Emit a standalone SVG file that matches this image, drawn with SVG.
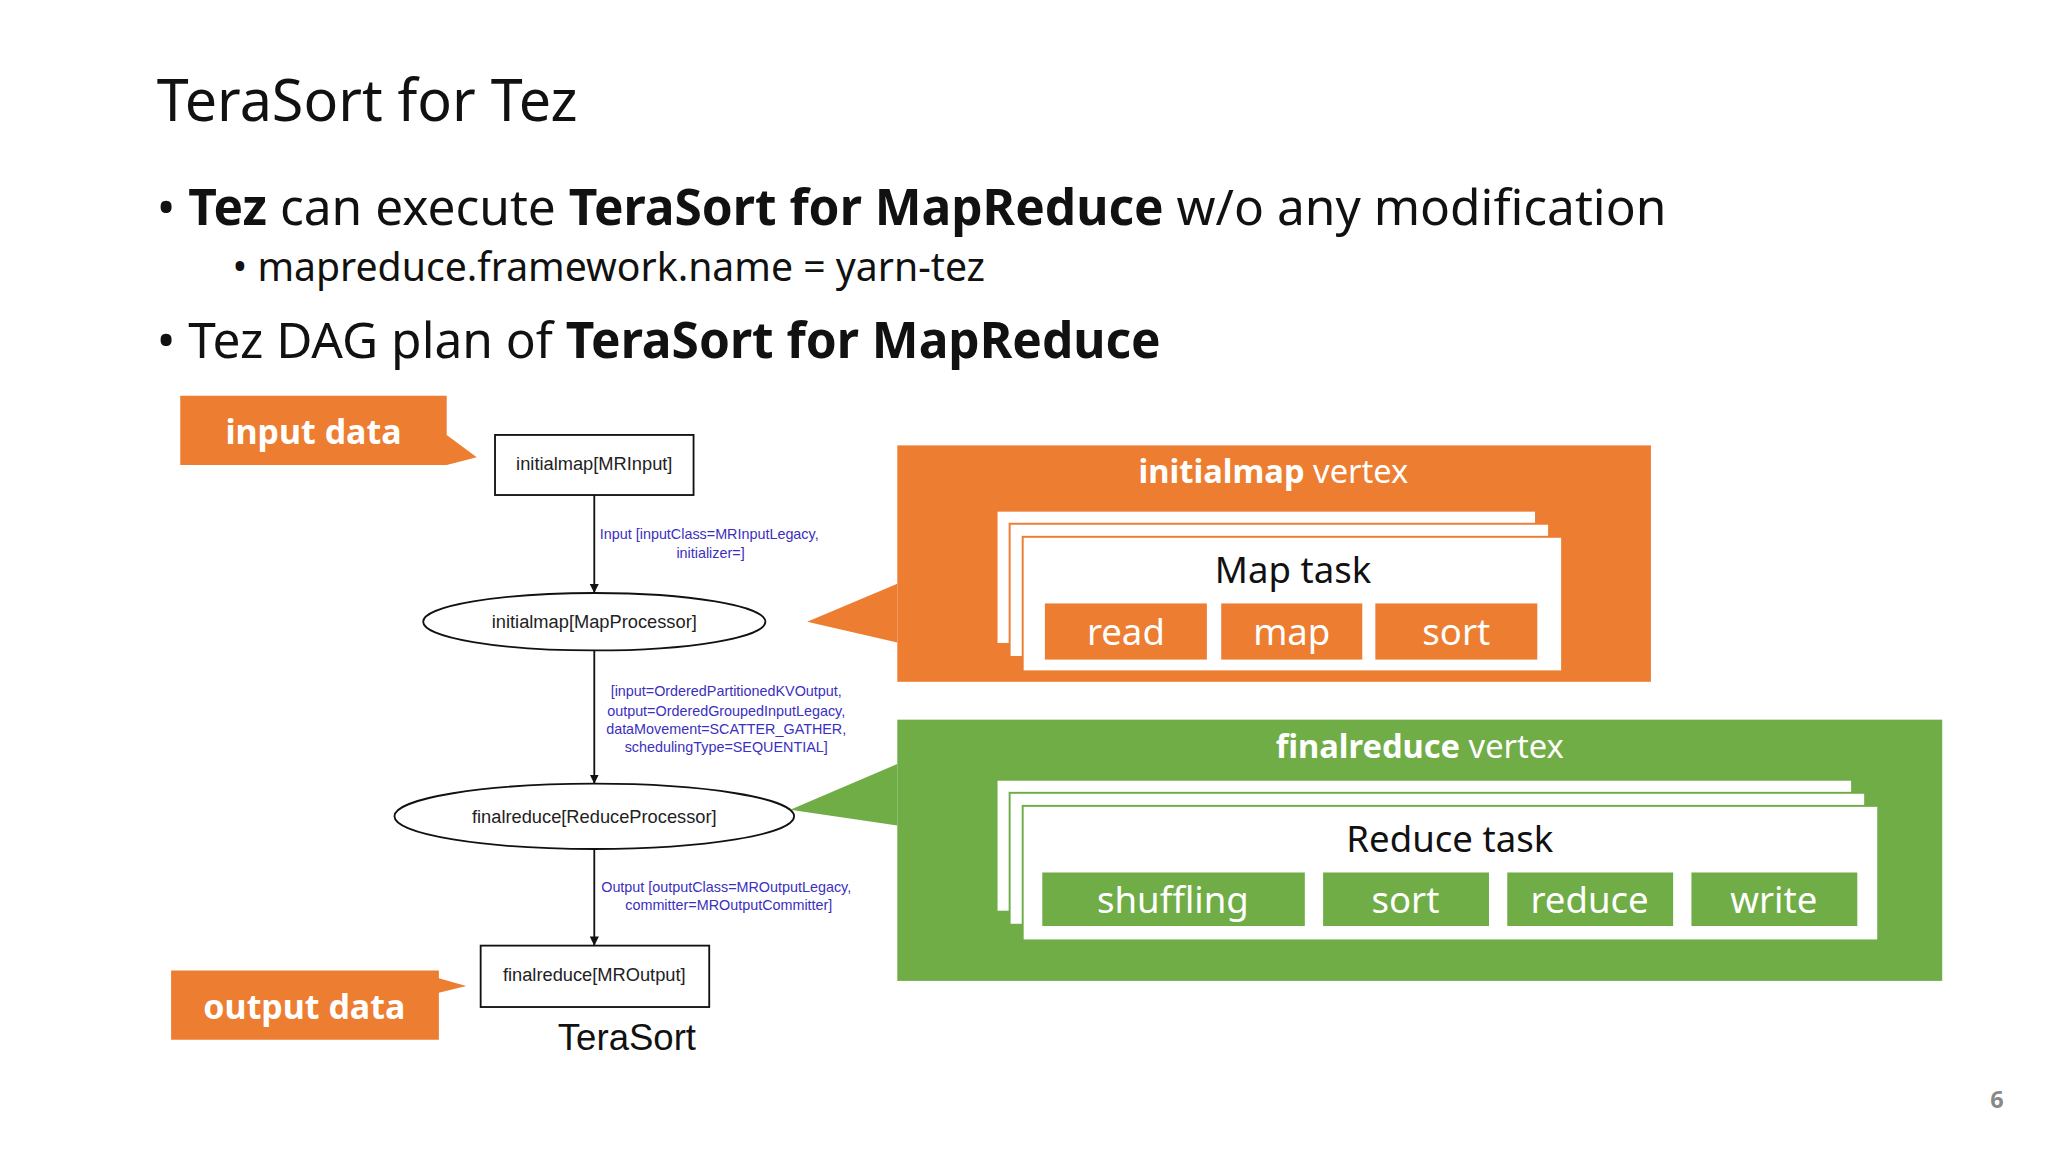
<svg xmlns="http://www.w3.org/2000/svg" width="2048" height="1152" viewBox="0 0 2048 1152">
<defs>
<style>
.t{font-family:"Noto Sans","Open Sans",sans-serif;fill:#111}
.g{font-family:"Liberation Sans",Arial,sans-serif;fill:#222;font-size:14px;text-anchor:middle}
.lb{font-family:"Liberation Sans",Arial,sans-serif;fill:#3b2fc0;font-size:11px;text-anchor:middle}
.w{font-family:"Noto Sans","Open Sans",sans-serif;fill:#fff;text-anchor:middle}
.pgO{fill:#fff;stroke:#ED7D31;stroke-width:1.5}
.pgG{fill:#fff;stroke:#70AD47;stroke-width:1.5}
.e{stroke:#111;stroke-width:1.4;fill:none}
</style>
<marker id="ah" viewBox="0 0 10 10" refX="10" refY="5" markerWidth="7" markerHeight="7" orient="auto" markerUnits="userSpaceOnUse"><path d="M0,0L10,5L0,10z" fill="#111"/></marker>
</defs>
<rect width="2048" height="1152" fill="#fff"/>
<g transform="scale(1.306122)">
<text class="t" x="120" y="93" font-size="44">TeraSort for Tez</text>
<text class="t" x="120" y="172" font-size="38">• <tspan font-weight="bold">Tez</tspan> can execute <tspan font-weight="bold">TeraSort for MapReduce</tspan> w/o any modification</text>
<text class="t" x="178" y="215" font-size="30">•  mapreduce.framework.name = yarn-tez</text>
<text class="t" x="120" y="274" font-size="38">• Tez DAG plan of <tspan font-weight="bold">TeraSort for MapReduce</tspan></text>

<g id="input-data"><path d="M138,303H342V333L365,350L342,356H138Z" fill="#ED7D31"/><text class="w" x="240" y="340" font-size="26" font-weight="bold">input data</text></g>
<g id="output-data"><path d="M131,743H336V749L357,755L336,760V796H131Z" fill="#ED7D31"/><text class="w" x="233" y="780" font-size="26" font-weight="bold">output data</text></g>

<g id="connectors">
<line class="e" x1="455" y1="379" x2="455" y2="454" marker-end="url(#ah)"/>
<line class="e" x1="455" y1="498" x2="455" y2="600" marker-end="url(#ah)"/>
<line class="e" x1="455" y1="650" x2="455" y2="724" marker-end="url(#ah)"/>
<text class="lb" x="543" y="413">Input [inputClass=MRInputLegacy,</text>
<text class="lb" x="544" y="427">initializer=]</text>
<text class="lb" x="556" y="533">[input=OrderedPartitionedKVOutput,</text>
<text class="lb" x="556" y="548">output=OrderedGroupedInputLegacy,</text>
<text class="lb" x="556" y="562">dataMovement=SCATTER_GATHER,</text>
<text class="lb" x="556" y="576">schedulingType=SEQUENTIAL]</text>
<text class="lb" x="556" y="683">Output [outputClass=MROutputLegacy,</text>
<text class="lb" x="558" y="697">committer=MROutputCommitter]</text>
</g>
<g id="n1"><rect x="379" y="333" width="152" height="46" fill="#fff" stroke="#111" stroke-width="1.4"/><text class="g" x="455" y="360">initialmap[MRInput]</text></g>
<g id="n2"><ellipse cx="455" cy="476" rx="131" ry="22" fill="#fff" stroke="#111" stroke-width="1.4"/><text class="g" x="455" y="481">initialmap[MapProcessor]</text></g>
<g id="n3"><ellipse cx="455" cy="625" rx="153" ry="25" fill="#fff" stroke="#111" stroke-width="1.4"/><text class="g" x="455" y="630">finalreduce[ReduceProcessor]</text></g>
<g id="n4"><rect x="368" y="724" width="175" height="47" fill="#fff" stroke="#111" stroke-width="1.4"/><text class="g" x="455" y="751">finalreduce[MROutput]</text></g>
<text x="480" y="804" font-family="Liberation Sans,Arial,sans-serif" font-size="28" text-anchor="middle" fill="#111">TeraSort</text>

<g id="initialmap-vertex">
<path d="M618,476L687,447V492Z" fill="#ED7D31"/>
<rect x="687" y="341" width="577" height="181" fill="#ED7D31"/>
<text class="w" x="975" y="370" font-size="25"><tspan font-weight="bold">initialmap</tspan> vertex</text>
<rect class="pgO" x="763" y="391" width="413" height="102"/>
<rect class="pgO" x="773" y="401" width="413" height="102"/>
<rect class="pgO" x="783" y="411" width="413" height="103"/>
<text x="990" y="446" font-family="Noto Sans,sans-serif" font-size="28" text-anchor="middle" fill="#111">Map task</text>
<rect x="800" y="462" width="124" height="43" fill="#ED7D31"/><text class="w" x="862" y="494" font-size="28">read</text>
<rect x="935" y="462" width="108" height="43" fill="#ED7D31"/><text class="w" x="989" y="494" font-size="28">map</text>
<rect x="1053" y="462" width="124" height="43" fill="#ED7D31"/><text class="w" x="1115" y="494" font-size="28">sort</text>
</g>

<g id="finalreduce-vertex">
<path d="M605,620L687,585V632Z" fill="#70AD47"/>
<rect x="687" y="551" width="800" height="200" fill="#70AD47"/>
<text class="w" x="1087" y="580" font-size="25"><tspan font-weight="bold">finalreduce</tspan> vertex</text>
<rect class="pgG" x="763" y="597" width="655" height="101"/>
<rect class="pgG" x="773" y="607" width="655" height="101"/>
<rect class="pgG" x="783" y="617" width="655" height="103"/>
<text x="1110" y="652" font-family="Noto Sans,sans-serif" font-size="28" text-anchor="middle" fill="#111">Reduce task</text>
<rect x="798" y="668" width="201" height="41" fill="#70AD47"/><text class="w" x="898" y="699" font-size="28">shuffling</text>
<rect x="1013" y="668" width="127" height="41" fill="#70AD47"/><text class="w" x="1076" y="699" font-size="28">sort</text>
<rect x="1154" y="668" width="127" height="41" fill="#70AD47"/><text class="w" x="1217" y="699" font-size="28">reduce</text>
<rect x="1295" y="668" width="127" height="41" fill="#70AD47"/><text class="w" x="1358" y="699" font-size="28">write</text>
</g>
<text x="1529" y="848" font-family="Noto Sans,sans-serif" font-size="18" font-weight="bold" fill="#888" text-anchor="middle">6</text>
</g>
</svg>
